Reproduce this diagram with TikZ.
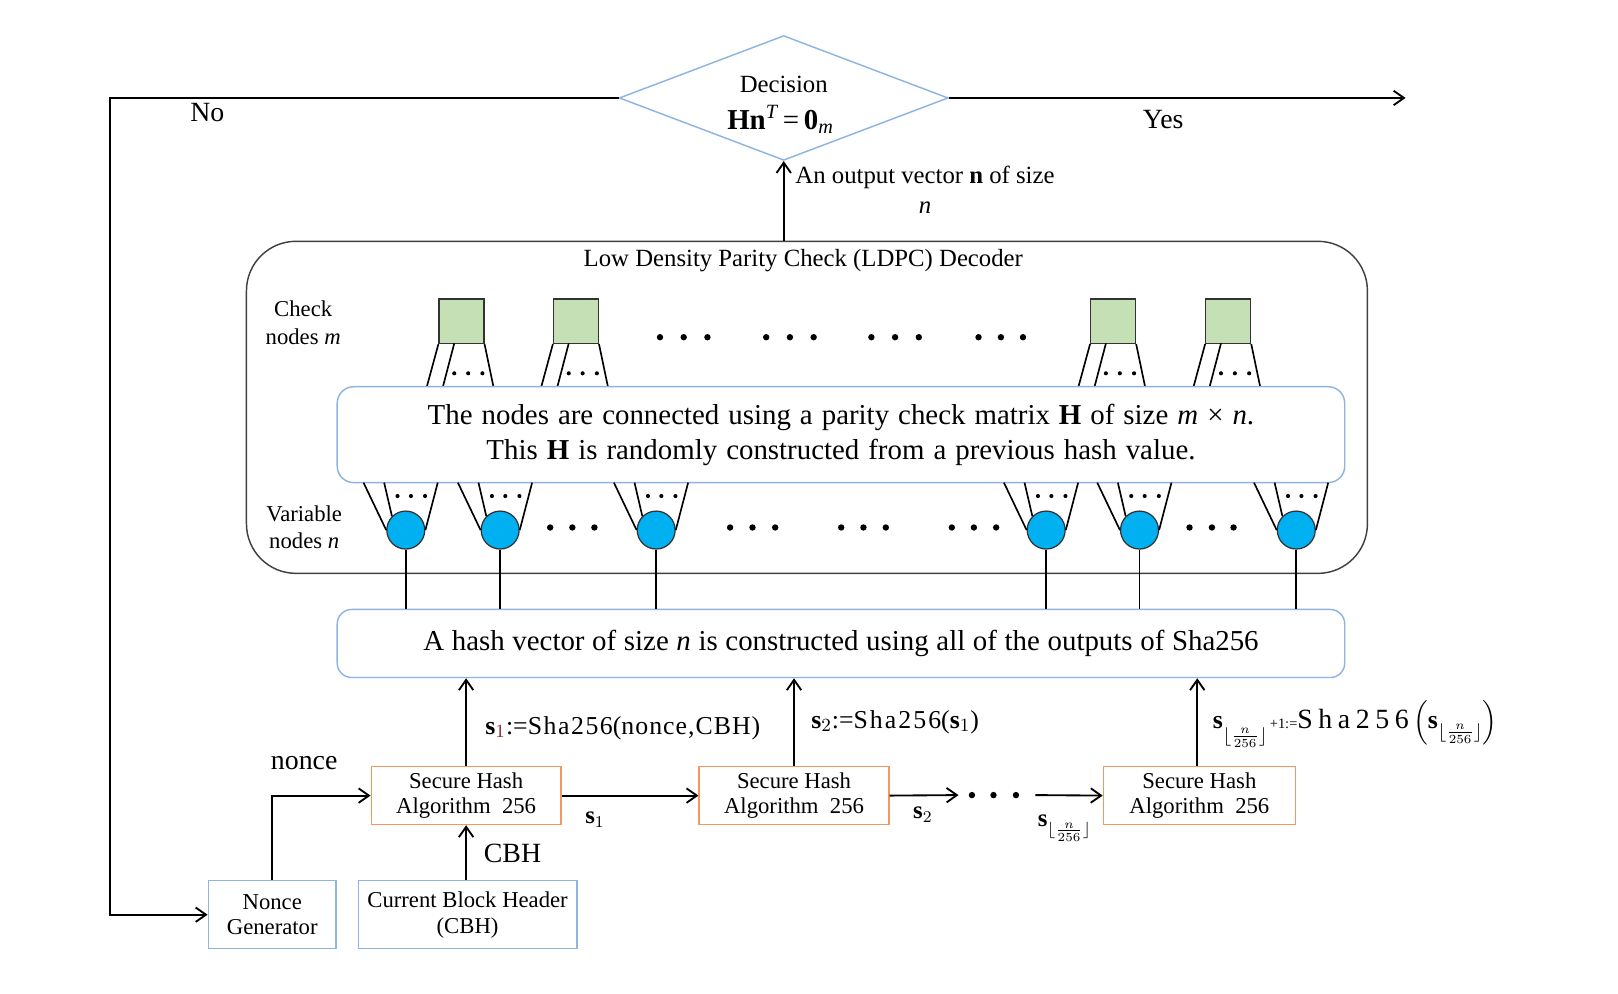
\documentclass[tikz,border=0pt]{standalone}
\usepackage{amsmath}
\usepackage{exscale}
\usepackage{fontspec}
\setmainfont{Liberation Serif}
\usetikzlibrary{shapes.geometric,arrows.meta,calc}
\definecolor{lblue}{RGB}{141,180,226}
\definecolor{orng}{RGB}{244,150,95}
\definecolor{cgreen}{RGB}{197,224,180}
\definecolor{vcyan}{RGB}{0,176,240}
\definecolor{ldpcgray}{RGB}{64,64,64}
\definecolor{dred}{RGB}{140,30,30}
\newcommand\myinnerfont{\fontsize{14}{17}\selectfont\spaceskip 4.375pt\relax}
\newcommand\myhashfont{\fontsize{14}{16}\selectfont\spaceskip 3.71pt\relax}
\begin{document}
\begin{tikzpicture}[x=0.5pt,y=-0.5pt,
  arr/.style={-{Straight Barb[length=5pt,width=7pt]},line width=0.9pt},
  ln/.style={line width=0.9pt},
  fan/.style={line width=0.8pt},
  bluebox/.style={draw=lblue,line width=0.7pt,fill=white,inner sep=0pt,align=center,font=\fontsize{11}{12.5}\selectfont},
  shabox/.style={draw=orng,line width=0.7pt,fill=white,inner sep=0pt,align=center,minimum width=92pt,minimum height=28pt,font=\fontsize{11}{12.5}\selectfont},
  chk/.style={draw=black!80,line width=0.6pt,fill=cgreen,minimum width=21.75pt,minimum height=21.5pt,inner sep=0pt},
  var/.style={circle,draw=black!80,line width=0.6pt,fill=vcyan,minimum size=18.4pt,inner sep=0pt},
  lbl/.style={inner sep=0pt,align=center},
]
\fill[white] (0,0) rectangle (1569,963);
\useasboundingbox (0,0) rectangle (1569,963);

% decision
\node[diamond,draw=lblue,line width=0.7pt,minimum width=159.5pt,minimum height=60.5pt,inner sep=0pt] (dec) at (760,95) {};
\node[lbl,font=\fontsize{12}{14}\selectfont] (dectxt) at (760,82) {Decision};
\node[lbl,font=\fontsize{14}{16}\selectfont] (decf) at (757,116) {\textbf{Hn}$^{\textit{T}}$\,=\,\textbf{0}$_{\textit{m}}$};

% LDPC box
\node[draw=ldpcgray,line width=0.7pt,rounded corners=24pt,minimum width=543.5pt,minimum height=161pt,inner sep=0pt] (ldpc) at (782.5,395) {};
\node[lbl,font=\fontsize{12}{14}\selectfont] (ldpct) at (779,253) {Low Density Parity Check (LDPC) Decoder};
\node[lbl,font=\fontsize{11}{13.5}\selectfont] (chkl) at (294,313) {Check\\nodes \textit{m}};
\node[lbl,font=\fontsize{11}{13}\selectfont] (varl) at (295,511) {Variable\\nodes \textit{n}};

% check nodes with fans
\foreach \sx/\i in {447.5/1,558.5/2,1079.4/3,1191/4}{
  \node[chk] (c\i) at (\sx,311.5) {};
  \draw[fan] (c\i.south west) -- ({\sx-33.6},375);
  \draw[fan] ({\sx-7},333) -- ({\sx-18},375);
  \draw[fan] (c\i.south east) -- ({\sx+31},375);
  \foreach \dx in {-7,6.5,20.3} \fill ({\sx+\dx},362) circle (2);
}
\foreach \x in {640,663,686,743,766,789,845,868,891,948.9,970.6,992}
  \fill (\x,327) circle (3.1);

% inner text box
\node[draw=lblue,line width=0.7pt,fill=white,rounded corners=8pt,minimum width=488.5pt,minimum height=46.5pt,inner sep=0pt,align=center,font=\myinnerfont] (hbox) at (815.5,421.5)
 {The nodes are connected using a parity check matrix \textbf{H} of size \textit{m} × \textit{n}.\\
  This \textbf{H} is randomly constructed from a previous hash value.};

% hash vector box
\node[draw=lblue,line width=0.7pt,fill=white,rounded corners=7pt,minimum width=488.5pt,minimum height=33pt,inner sep=0pt,font=\myhashfont] (hash) at (815.5,624)
 {A hash vector of size \textit{n} is constructed using all of the outputs of Sha256};

% variable nodes with fans
\foreach \cx/\i in {393.5/1,485/2,636.3/3,1014.5/4,1105/5,1257/6}{
  \node[var] (v\i) at (\cx,514) {};
  \draw[fan] ({\cx-41},468) -- (v\i.west);
  \draw[fan] ({\cx-21},468) -- (v\i.135);
  \draw[fan] ({\cx+31},468) -- (v\i.east);
  \foreach \dx in {-8,5,18.7} \fill ({\cx+\dx},481) circle (2);
  \draw[ln] (v\i.south) -- (v\i.south |- hash.north);
}
\foreach \x in {533.5,555,576.4,708,729.7,751.7,815.7,837.3,859,923,944.4,966,1153.5,1175.2,1196.2}
  \fill (\x,511.5) circle (3.1);

% output arrow
\draw[arr] (ldpc.north -| dec.south) -- (dec.south);
\node[lbl,font=\fontsize{12}{14.5}\selectfont] (outl) at (897,184) {An output vector \textbf{n} of size\\\textit{n}};

% yes / no
\coordinate (nocorner) at (107,95);
\coordinate (yesend) at (1363,95);
\draw[arr] (dec.east) -- (yesend);
\node[lbl,font=\fontsize{13.5}{16}\selectfont] (yes) at (1128,116) {Yes};
\node[lbl,font=\fontsize{13.5}{16}\selectfont] (no) at (201,109) {No};

% bottom boxes
\node[bluebox,minimum width=62pt,minimum height=33pt] (nonce) at (264,887) {Nonce\\Generator};
\node[bluebox,minimum width=106pt,minimum height=33pt] (cbh) at (453.4,887) {Current Block Header\\(CBH)};
\draw[arr] (dec.west) -- (nocorner) |- (nonce.west);

\node[shabox] (sha1) at (452,771.5) {Secure Hash\\Algorithm\ \ 256};
\node[shabox] (sha2) at (770,771.5) {Secure Hash\\Algorithm\ \ 256};
\node[shabox,minimum width=93pt] (sha3) at (1163,771.5) {Secure Hash\\Algorithm\ \ 256};

\draw[arr] (nonce.north) |- (sha1.west);
\node[lbl,font=\fontsize{13.5}{15}\selectfont] (noncel) at (295,740) {nonce};
\draw[arr] (sha1.south |- cbh.north) -- (sha1.south);
\node[lbl,font=\fontsize{13.5}{15}\selectfont] (cbhl) at (497,828) {CBH};

\draw[arr] (sha1.north) -- (sha1.north |- hash.south);
\draw[arr] (sha2.north) -- (sha2.north |- hash.south);
\draw[arr] ([xshift=-1pt]sha3.north) -- ([xshift=-1pt]sha3.north |- hash.south);

\draw[arr] (sha1.east) -- (sha2.west);
\coordinate (d1) at (929.5,771);
\coordinate (d2) at (1004,771);
\draw[arr] (sha2.east) -- (d1);
\foreach \x in {942.5,963.4,985.2} \fill (\x,771) circle (3.1);
\draw[arr] (d2) -- (sha3.west);

% labels of the hash chain
\node[lbl,font=\fontsize{12.5}{15}\selectfont] (s1l) at (604,706)
  {\textbf{s}$_{\textcolor{dred}{1}}$:={\addfontfeatures{LetterSpace=6}Sha256}(\addfontfeatures{LetterSpace=4}nonce,CBH)};
\node[lbl,font=\fontsize{12.5}{15}\selectfont] (s2l) at (868,700)
  {\textbf{s}$_{2}$:={\addfontfeatures{LetterSpace=8}Sha256}(\textbf{s}$_{1}$)};
\node[lbl,font=\fontsize{12.5}{15}\selectfont] (s3l) at (1314,702)
  {\textbf{s}\raisebox{-6pt}{$\scriptstyle\lfloor\frac{n}{256}\rfloor$}\raisebox{0pt}{\fontsize{7}{8}\selectfont\,+1:=}{\fontsize{13.5}{15}\selectfont\addfontfeatures{LetterSpace=20}Sha256}\,$\Bigl($\textbf{s}\raisebox{-4pt}{$\scriptstyle\lfloor\frac{n}{256}\rfloor$}$\Bigr)$};
\node[lbl,font=\fontsize{12}{14}\selectfont] (s1a) at (577,795) {\textbf{s}$_{1}$};
\node[lbl,font=\fontsize{12}{14}\selectfont] (s2a) at (895,790) {\textbf{s}$_{2}$};
\node[lbl,font=\fontsize{12}{14}\selectfont] (sna) at (1032,803) {\textbf{s}\raisebox{-4pt}{$\scriptstyle\lfloor\frac{n}{256}\rfloor$}};
\end{tikzpicture}
\end{document}
